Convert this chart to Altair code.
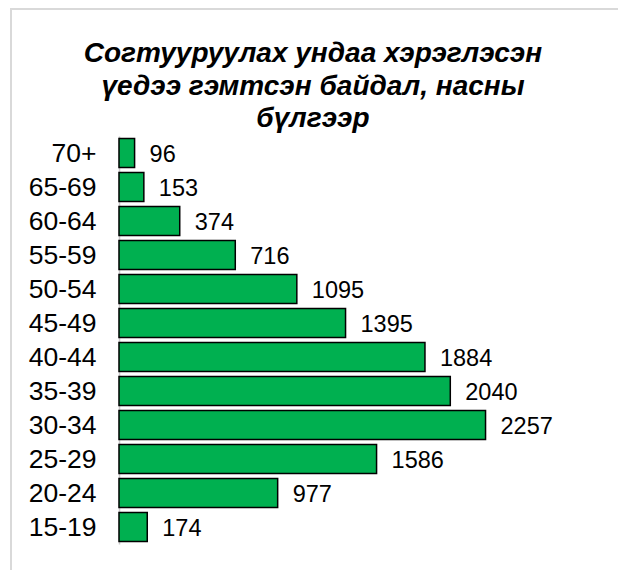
import altair as alt
import pandas as pd

ages = ["70+", "65-69", "60-64", "55-59", "50-54", "45-49", "40-44", "35-39", "30-34", "25-29", "20-24", "15-19"]
counts = [96, 153, 374, 716, 1095, 1395, 1884, 2040, 2257, 1586, 977, 174]
title_lines = ["Согтууруулах ундаа хэрэглэсэн", "үедээ гэмтсэн байдал, насны", "бүлгээр"]

df = pd.DataFrame({"age": ages, "count": counts})

FONT = "Liberation Sans"

y_enc = alt.Y("age:N", sort=ages,
              scale=alt.Scale(paddingInner=0.15, paddingOuter=0.075),
              axis=alt.Axis(title=None, ticks=False, labelFontSize=26.5, labelColor="black",
                            labelFont=FONT, labelPadding=23, labelOffset=1,
                            domainColor="#c8c8c8", domainWidth=1.5, grid=False))
x_enc = alt.X("count:Q", scale=alt.Scale(domain=[0, 2500], nice=False), axis=None)

one = pd.DataFrame({"k": [0]})
top_line = alt.Chart(one).mark_rule(stroke="#d9d9d9", strokeWidth=2).encode(
    x=alt.value(-109), x2=alt.value(700), y=alt.value(-127))
left_line = alt.Chart(one).mark_rule(stroke="#d9d9d9", strokeWidth=2).encode(
    x=alt.value(-108), y=alt.value(-127), y2=alt.value(700))

title = alt.Chart(one).mark_text(
    text=title_lines, align="center", baseline="alphabetic", fontSize=28, font=FONT,
    fontStyle="italic", fontWeight="bold", color="black", lineHeight=32.5
).encode(x=alt.value(194), y=alt.value(-74))

bars = alt.Chart(df).mark_bar(color="#00B050", stroke="black", strokeWidth=1.5).encode(
    x=x_enc, y=y_enc
)
labels = alt.Chart(df).mark_text(align="left", baseline="middle", dx=15, dy=2,
                                 fontSize=23.5, font=FONT, color="black").encode(
    x=x_enc, y=y_enc, text="count:Q"
)

chart = alt.layer(top_line, left_line, title, bars, labels).properties(
    width=406, height=408,
    autosize=alt.AutoSizeParams(type="none"),
    padding={"left": 111, "top": 128, "right": 93, "bottom": 26},
).configure_view(stroke=None)

chart.save("out.html", embed_options={"renderer": "svg", "actions": False})
